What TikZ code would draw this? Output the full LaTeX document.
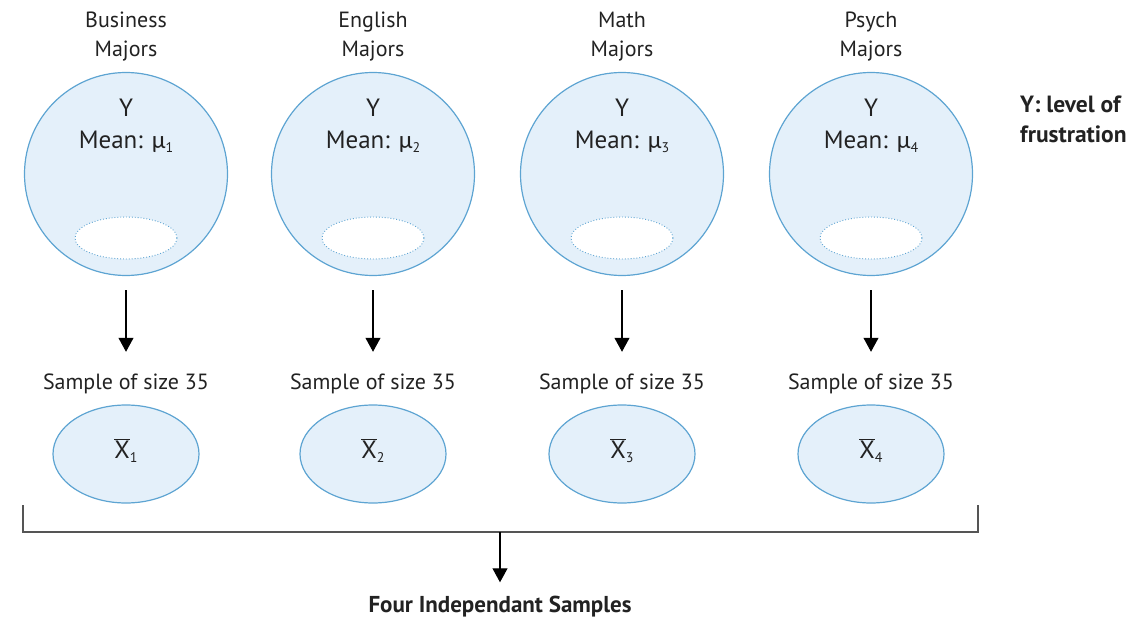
\documentclass[tikz,border=0pt]{standalone}
\usepackage{fontspec}
\setmainfont{PT Sans}
\newfontfamily\gkfont{Carlito}
\usetikzlibrary{arrows.meta,shapes.geometric}
\definecolor{popblue}{HTML}{5DA4D2}
\definecolor{popfill}{HTML}{E4F0FA}
\definecolor{txt}{HTML}{222222}
\definecolor{brk}{HTML}{555555}
\newcommand{\lowidx}[1]{\raisebox{-0.35ex}{\fontsize{14}{14}\selectfont #1}}
\begin{document}
\begin{tikzpicture}[x=1pt,y=-1pt,
  pop/.style={circle, draw=popblue, fill=popfill, line width=1.2pt, minimum size=203pt, inner sep=0pt},
  hole/.style={ellipse, draw=popblue, dotted, fill=white, minimum width=102pt, minimum height=42pt, line width=0.9pt, inner sep=0pt},
  samp/.style={ellipse, draw=popblue, fill=popfill, line width=1.2pt, minimum width=146pt, minimum height=98pt, inner sep=0pt},
  toplbl/.style={font=\fontsize{22}{29}\selectfont, align=center, text=txt, inner sep=0pt},
  big/.style={font=\fontsize{25}{28}\selectfont, text=txt, inner sep=0pt},
  slbl/.style={font=\fontsize{22}{26}\selectfont, text=txt, inner sep=0pt},
  arr/.style={-{Triangle[width=15pt,length=14pt]}, line width=1.1pt, draw=black},
  brack/.style={draw=brk, line width=1.1pt}]
\useasboundingbox (0,0) rectangle (1146,620);
\foreach \i/\x/\nm in {1/126/Business, 2/373/English, 3/622/Math, 4/871/Psych}{
  \node[toplbl] (top\i) at (\x,37) {\nm\\Majors};
  \node[pop] (pop\i) at (\x,174) {};
  \node[big] (y\i) at (\x,108) {Y};
  \node[big] (mean\i) at (\x,142) {Mean: {\gkfont μ}\lowidx{\i}};
  \node[hole] (hole\i) at (\x,238) {};
  \node[slbl] (lab\i) at (\x,384) {Sample of size 35};
  \node[samp] (samp\i) at (\x,454) {};
  \node[big] (xbar\i) at (\x,451) {$\overline{\hbox{X}}$\lowidx{\i}};
  \draw[arr] ([yshift=-14pt]pop\i.south) -- ([yshift=22pt]lab\i.north);
}
\node[font=\fontsize{23.5}{30}\selectfont\bfseries, text=txt, align=left, anchor=west, inner sep=0pt] (ylabel) at (1020,119) {Y: level of\\frustration};
\coordinate (bl) at (23,505);
\coordinate (br) at (978,505);
\coordinate (bm) at (500,532);
\draw[brack] (bl) |- (bm) -| (br);
\node[font=\fontsize{23}{26}\selectfont\bfseries, text=txt, inner sep=0pt] (four) at (500,607) {Four Independant Samples};
\draw[arr] (bm) -- ([yshift=14pt]four.north);
\end{tikzpicture}
\end{document}
